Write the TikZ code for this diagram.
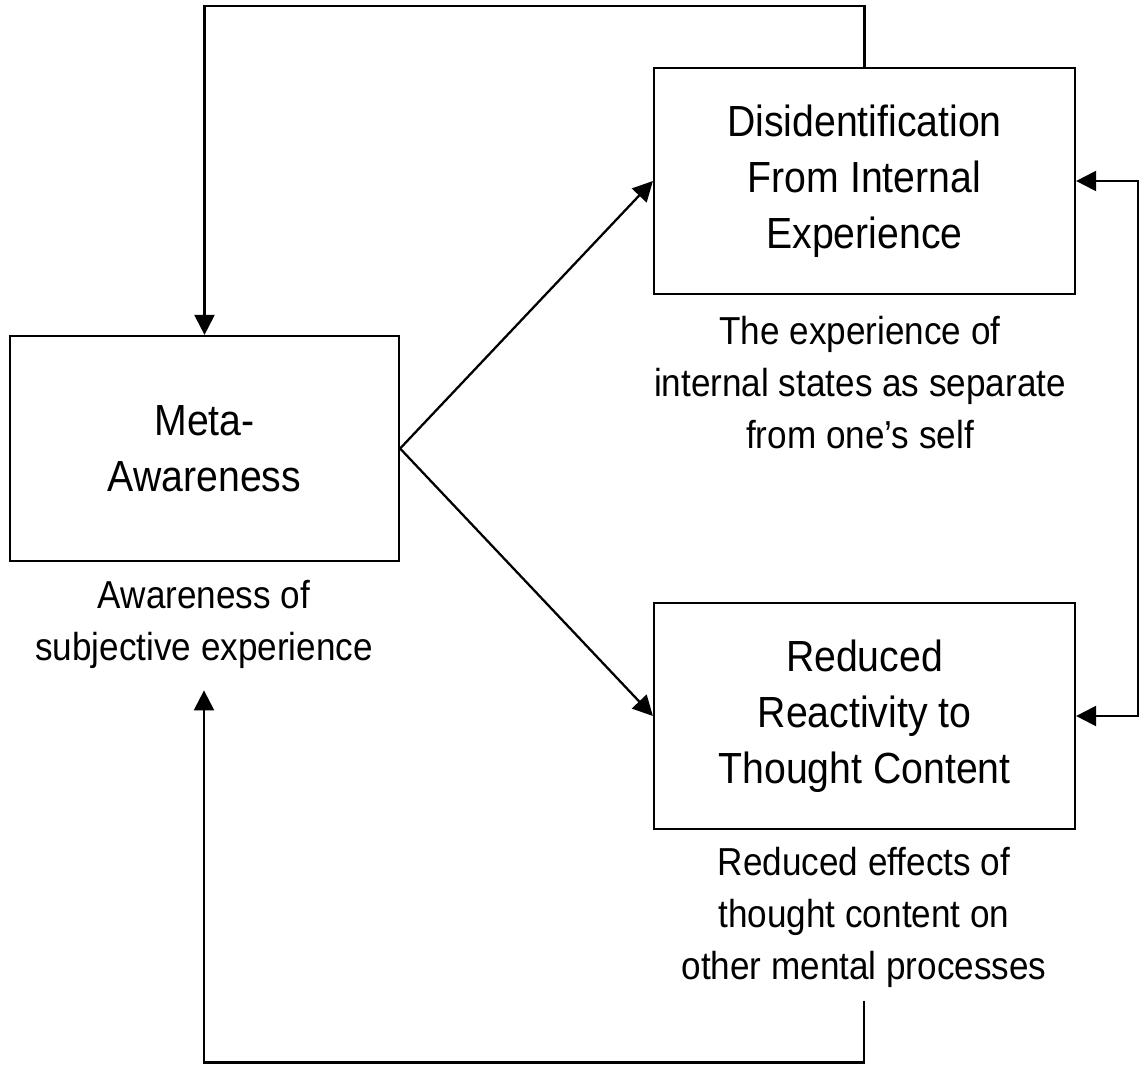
\documentclass[tikz,border=0pt]{standalone}
\usepackage{fontspec}
\setmainfont[FakeStretch=0.9]{Liberation Sans}
\usetikzlibrary{arrows.meta}
\begin{document}
\begin{tikzpicture}[x=0.02cm, y=-0.02cm, line width = 1.3,
  >={Triangle[length=0.4cm,width=0.4cm]},
  box/.style={draw, align=center, minimum width=8.42cm, minimum height=4.52cm,
    font=\fontsize{24.8pt}{31.9pt}\selectfont},
  caption/.style={align=center, inner sep=0pt,
    font=\fontsize{22.2pt}{29.6pt}\selectfont}]
\useasboundingbox (0,0) rectangle (1139,1068);
\node[box, minimum width=7.78cm, minimum height=4.5cm] (meta) at (204.5,448.5) {Meta-\\Awareness};
\node[box] (disid) at (864.5,181) {Disidentification\\From Internal\\Experience};
\node[box] (reduced) at (864.5,716) {Reduced\\Reactivity to\\Thought Content};
\node[caption] (metacap) at (204,624) {Awareness of\\subjective experience};
\node[caption] (disidcap) at (860,383) {The experience of\\internal states as separate\\from one’s self};
\node[caption] (redcap) at (864,917) {Reduced effects of\\thought content on\\other mental processes};
% forward paths
\draw[->] (meta.east) -- (disid.west);
\draw[->] (meta.east) -- (reduced.west);
\draw[<->] (disid.east) -- ++(62,0) |- (reduced.east);
% feedback loops
\draw[->] (disid.north) -- ++(0,-61) -| (meta.north);
\draw[->] ([yshift=-7pt]redcap.south) -- ++(0,62) -| ([yshift=-12pt]metacap.south);
\end{tikzpicture}
\end{document}
